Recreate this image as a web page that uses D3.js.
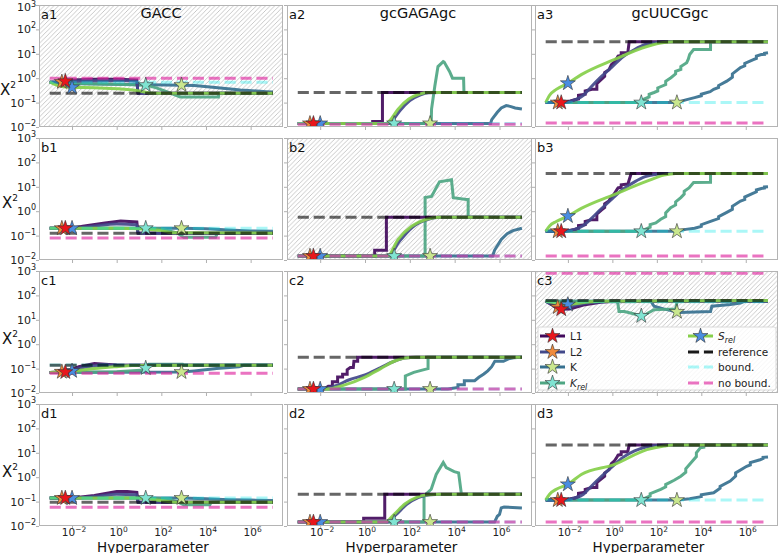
<!DOCTYPE html>
<html><head><meta charset="utf-8">
<script src="https://cdn.jsdelivr.net/npm/d3@7"></script>
<style>body{margin:0;background:#fff;} svg{display:block;font-family:"DejaVu Sans",sans-serif;}</style>
</head><body><svg id="chart" width="780" height="553"></svg>
<script>
// ---------------- data ----------------
const rowIds = ["a","b","c","d"];
const columnTitles = ["GACC","gcGAGAgc","gcUUCGgc"];
const methods = ["L1","L2","K","K_rel","S_rel"];
const xTickValues = [1e-2,1,1e2,1e4,1e6];
const yTickValues = [1e-2,1e-1,1,1e1,1e2,1e3];
const xTickExp = ["−2","0","2","4","6"];
const yTickExp = ["−2","−1","0","1","2","3"];
const hatchedPanels = ["a1","b2","c3"];
// star positions (hyperparameter value of selected optimum) per method
const starX = {L1:5e-3, L2:3.5e-3, K:800, K_rel:20, S_rel:1e-2};
// horizontal levels per row (columns GACC, gcGAGAgc, gcUUCGgc)
const referenceLevels = [[0.24,0.26,31],[0.126,0.56,35],[0.137,0.29,62],[0.095,0.2,21]];
const boundLevels     = [[0.68,0.014,0.1],[0.2,0.0145,0.15],[0.14,0.0145,55],[0.14,0.0145,0.115]];
const noBoundLevels   = [[1.0,0.013,0.0145],[0.079,0.0145,0.0145],[0.065,0.0145,800],[0.059,0.0145,0.0145]];

const panelA1 = {
  L1:[[1e-3,0.68],[4e-3,0.72],[0.01,0.85],[0.1,0.9],[1,0.9],[8,0.85],[9,0.24],[1e7,0.24]],
  L2:[[1e-3,0.68],[4e-3,0.7],[0.03,0.78],[1,0.8],[8,0.75],[9,0.24],[1e7,0.24]],
  K:[[1e-3,0.68],[0.01,0.6],[1,0.56],[800,0.52],[3000,0.5],[2e4,0.43],[3.5e5,0.33],[5e6,0.28],[1e7,0.27]],
  K_rel:[[1e-3,0.68],[0.01,0.6],[1,0.56],[20,0.52],[60,0.4],[350,0.22],[700,0.17],[3.6e4,0.17],[3.8e4,0.24],[1e7,0.24]],
  S_rel:[[1e-3,0.7],[2e-3,0.52],[0.01,0.42],[0.1,0.41],[1,0.37],[10,0.3],[30,0.25],[100,0.24],[1e7,0.24]]
};
const panelB1 = {
  L1:[[1e-3,0.2],[0.01,0.2],[0.03,0.24],[0.3,0.33],[1.5,0.4],[8,0.36],[9,0.126],[1e7,0.126]],
  L2:[[1e-3,0.2],[0.01,0.2],[0.1,0.25],[1,0.3],[8,0.28],[9,0.126],[1e7,0.126]],
  K:[[1e-3,0.2],[800,0.2],[1e4,0.19],[1e5,0.17],[1e6,0.155],[1e7,0.15]],
  K_rel:[[1e-3,0.2],[20,0.2],[90,0.19],[500,0.13],[1000,0.085],[2.7e4,0.085],[3.2e4,0.126],[1e7,0.126]],
  S_rel:[[1e-3,0.2],[1,0.2],[10,0.19],[100,0.16],[300,0.13],[1e7,0.126]]
};
const panelC1 = {
  L1:[[1e-3,0.07],[5e-3,0.072],[0.02,0.12],[0.1,0.16],[0.3,0.15],[1,0.14],[1e7,0.137]],
  L2:[[1e-3,0.07],[5e-3,0.075],[0.05,0.12],[0.3,0.14],[3,0.137],[1e7,0.137]],
  K:[[1e-3,0.07],[800,0.072],[3000,0.08],[3e4,0.1],[3e5,0.12],[5e5,0.137],[1e7,0.137]],
  K_rel:[[1e-3,0.07],[1,0.075],[12,0.085],[20,0.105],[28,0.15],[900,0.15],[1000,0.137],[1e7,0.137]],
  S_rel:[[1e-3,0.07],[0.01,0.08],[0.1,0.1],[1,0.12],[5,0.135],[1e7,0.137]]
};
const panelD1 = {
  L1:[[1e-3,0.14],[0.01,0.14],[0.1,0.18],[1,0.26],[3,0.26],[8,0.24],[9,0.095],[1e7,0.095]],
  L2:[[1e-3,0.14],[0.01,0.14],[0.1,0.16],[1,0.2],[8,0.19],[9,0.095],[1e7,0.095]],
  K:[[1e-3,0.14],[800,0.14],[1e4,0.13],[1e5,0.12],[1e6,0.115],[1e7,0.11]],
  K_rel:[[1e-3,0.14],[20,0.14],[200,0.13],[500,0.1],[1000,0.075],[1.5e4,0.075],[1.7e4,0.095],[1e7,0.095]],
  S_rel:[[1e-3,0.14],[10,0.14],[100,0.11],[500,0.095],[1e7,0.095]]
};
const panelA2 = {
  L1:[[1e-3,0.014],[2.2,0.014],[2.2,0.017],[6,0.017],[6,0.26],[1e7,0.26]],
  L2:[[1e-3,0.014],[10,0.014],[18,0.02],[35,0.045],[100,0.12],[300,0.21],[700,0.255],[2000,0.26],[1e7,0.26]],
  K:[[1e-3,0.014],[4e5,0.014],[4.5e5,0.02],[8e5,0.04],[1.2e6,0.06],[2e6,0.075],[3e6,0.07],[5e6,0.06],[1e7,0.055]],
  K_rel:[[1e-3,0.014],[900,0.014],[930,0.054],[1300,0.47],[1800,3.0],[3100,4.8],[3400,4.6],[5900,1.9],[8000,1.0],[2.5e4,1.0],[2.6e4,0.26],[1e7,0.26]],
  S_rel:[[1e-3,0.014],[9,0.014],[15,0.022],[30,0.054],[90,0.14],[250,0.22],[600,0.26],[1e7,0.26]]
};
const panelB2 = {
  L1:[[1e-3,0.0145],[2.7,0.0145],[2.7,0.025],[9,0.025],[9,0.56],[1e7,0.56]],
  L2:[[1e-3,0.0145],[11,0.0145],[35,0.06],[130,0.22],[600,0.45],[2300,0.56],[1e7,0.56]],
  K:[[1e-3,0.0145],[5e5,0.0145],[6e5,0.025],[1.2e6,0.07],[2.2e6,0.12],[4e6,0.16],[1e7,0.2]],
  K_rel:[[1e-3,0.0145],[480,0.0145],[480,3.6],[930,4.0],[2100,16],[7200,19.5],[8700,3.6],[3.3e4,3.0],[4e4,3.0],[4e4,0.56],[1e7,0.56]],
  S_rel:[[1e-3,0.0145],[10,0.0145],[30,0.07],[120,0.24],[560,0.47],[2000,0.56],[1e7,0.56]]
};
const panelC2 = {
  L1:[[1e-3,0.0145],[0.015,0.0145],[0.023,0.019],[0.035,0.019],[0.035,0.029],[0.06,0.029],[0.06,0.045],[0.1,0.045],[0.1,0.058],[0.16,0.058],[0.16,0.09],[0.22,0.11],[0.3,0.11],[0.32,0.2],[0.47,0.2],[0.47,0.29],[1e7,0.29]],
  L2:[[1e-3,0.0145],[0.01,0.0145],[0.05,0.02],[0.2,0.035],[1,0.055],[5,0.11],[20,0.2],[60,0.27],[200,0.29],[1e7,0.29]],
  K:[[1e-3,0.0145],[5e3,0.0145],[1.4e4,0.017],[1.4e4,0.022],[2.7e4,0.022],[2.7e4,0.032],[7.8e4,0.032],[1.2e5,0.044],[2e5,0.06],[3e5,0.081],[4.5e5,0.12],[6.2e5,0.2],[1.5e6,0.2],[2.5e6,0.25],[4.2e6,0.28],[1e7,0.29]],
  K_rel:[[1e-3,0.0145],[63,0.0145],[63,0.05],[150,0.07],[525,0.095],[650,0.1],[650,0.29],[1e7,0.29]],
  S_rel:[[1e-3,0.0145],[0.02,0.0145],[0.1,0.02],[1,0.045],[5,0.1],[20,0.2],[60,0.27],[200,0.29],[1e7,0.29]]
};
const panelD2 = {
  L1:[[1e-3,0.0145],[0.87,0.0145],[0.87,0.021],[7.6,0.021],[7.6,0.2],[1e7,0.2]],
  L2:[[1e-3,0.0145],[9,0.0145],[25,0.03],[70,0.075],[250,0.15],[800,0.19],[2500,0.2],[1e7,0.2]],
  K:[[1e-3,0.0145],[6e5,0.0145],[8e5,0.025],[1e6,0.03],[1.2e6,0.055],[1.6e6,0.06],[1e7,0.055]],
  K_rel:[[1e-3,0.0145],[400,0.0145],[430,0.02],[430,0.17],[900,0.32],[1500,1.3],[3100,4.0],[4200,2.5],[9500,1.7],[1.5e4,1.5],[2e4,0.2],[1e7,0.2]],
  S_rel:[[1e-3,0.0145],[8,0.0145],[20,0.03],[60,0.08],[200,0.15],[600,0.19],[2000,0.2],[1e7,0.2]]
};
const panelA3 = {
  L1:[[1e-3,0.1],[6e-3,0.1],[0.01,0.11],[0.02,0.13],[0.03,0.14],[0.03,0.2],[0.06,0.22],[0.06,0.3],[0.12,0.35],[0.2,0.35],[0.2,0.6],[0.32,0.9],[0.45,1.2],[0.45,1.7],[0.7,2.2],[0.9,3.6],[1.2,4.5],[1.5,6],[1.8,8],[2.5,8.5],[2.5,11],[4.5,11],[5,12],[5.7,31],[1e7,31]],
  L2:[[1e-3,0.1],[6e-3,0.1],[0.02,0.13],[0.05,0.2],[0.1,0.4],[0.3,1.1],[1,3],[3,7.5],[10,15],[30,24],[100,29],[300,31],[1e7,31]],
  K:[[1e-3,0.1],[800,0.1],[2000,0.13],[5000,0.16],[1e4,0.19],[1e4,0.22],[2.5e4,0.28],[3.6e4,0.35],[6e4,0.42],[6e4,0.5],[1.4e5,0.76],[2.5e5,1.1],[2.5e5,1.5],[5.8e5,2.7],[9e5,3.2],[9e5,4],[2.2e6,5.8],[3e6,6.5],[3e6,8],[5e6,9.3],[7e6,9.5],[7e6,10.5],[1e7,11]],
  K_rel:[[1e-3,0.1],[20,0.1],[27,0.14],[45,0.17],[45,0.22],[75,0.26],[110,0.3],[110,0.4],[250,0.55],[250,0.75],[430,1.05],[700,1.5],[700,1.9],[1200,2.3],[1200,3],[2200,4.3],[2600,6],[3000,9.3],[4500,15],[2.6e4,15],[2.6e4,31],[1e7,31]],
  S_rel:[[1e-3,0.1],[1.5e-3,0.2],[3e-3,0.35],[0.01,0.62],[0.04,1.4],[1.2,5.8],[36,20],[210,29],[600,31],[1e7,31]]
};
const panelB3 = {
  L1:[[1e-3,0.15],[6e-3,0.15],[0.01,0.16],[0.02,0.18],[0.03,0.2],[0.03,0.26],[0.06,0.28],[0.06,0.38],[0.12,0.45],[0.2,0.45],[0.2,0.75],[0.32,1.1],[0.45,1.4],[0.45,2],[0.7,2.6],[0.9,4],[1.2,5],[1.5,7],[1.8,9],[2.5,9.5],[2.5,12],[5,13],[7,35],[1e7,35]],
  L2:[[1e-3,0.15],[6e-3,0.15],[0.02,0.18],[0.05,0.26],[0.1,0.45],[0.3,1.2],[1,3.3],[3,8],[10,16],[30,26],[100,33],[300,35],[1e7,35]],
  K:[[1e-3,0.15],[800,0.15],[2000,0.18],[5000,0.2],[1e4,0.24],[1e4,0.28],[3e4,0.4],[6e4,0.5],[6e4,0.6],[1.4e5,0.9],[2.5e5,1.2],[2.5e5,1.6],[5.8e5,2.6],[9e5,3],[9e5,3.8],[2.2e6,5.5],[3e6,6.2],[3e6,7.4],[5e6,8.5],[7e6,9],[7e6,9.8],[1e7,10]],
  K_rel:[[1e-3,0.15],[20,0.15],[30,0.18],[50,0.22],[50,0.28],[90,0.33],[150,0.47],[250,0.6],[250,0.85],[420,1.4],[700,1.8],[700,2.4],[1200,3.6],[1700,5],[1700,6.5],[2800,9],[4500,15],[2.6e4,15.5],[2.6e4,35],[1e7,35]],
  S_rel:[[1e-3,0.15],[1.5e-3,0.25],[3e-3,0.38],[0.01,0.63],[0.04,1.3],[1.2,4.8],[36,17],[210,30],[700,35],[1e7,35]]
};
const panelC3 = {
  L1:[[1e-3,58],[2e-3,40],[3e-3,30],[5e-3,27],[0.012,28],[0.05,40],[0.3,52],[1,58],[1e7,60]],
  L2:[[1e-3,58],[2e-3,42],[3.5e-3,33],[8e-3,32],[0.03,42],[0.3,55],[1e7,60]],
  K:[[1e-3,58],[54,58],[75,36],[200,28],[1050,20],[2.6e4,22],[3e4,36],[2e5,42],[5.8e5,49],[8e5,56],[1e7,56]],
  K_rel:[[1e-3,58],[1.7,58],[2,22],[3.5,22],[8,18],[22,14],[75,26],[700,28],[830,58],[1e7,60]],
  S_rel:[[1e-3,58],[4e-3,48],[0.01,42],[0.03,48],[0.3,57],[1e7,62]]
};
const panelD3 = {
  L1:[[1e-3,0.115],[6e-3,0.115],[0.01,0.125],[0.02,0.14],[0.03,0.16],[0.03,0.22],[0.06,0.24],[0.06,0.32],[0.12,0.38],[0.2,0.38],[0.2,0.6],[0.32,0.85],[0.45,1.1],[0.45,1.5],[0.7,2],[0.9,3.6],[1.2,4.5],[1.5,6],[1.8,8],[2.5,8.5],[2.5,11],[4.5,11],[5,12],[5.7,21],[1e7,21]],
  L2:[[1e-3,0.115],[6e-3,0.115],[0.02,0.14],[0.05,0.2],[0.1,0.38],[0.3,1],[1,2.7],[3,6.5],[10,12],[30,17],[100,20],[300,21],[1e7,21]],
  K:[[1e-3,0.115],[800,0.115],[3000,0.13],[1e4,0.16],[1e4,0.19],[3.6e4,0.23],[7e4,0.35],[7e4,0.42],[2e5,0.69],[3.5e5,1.1],[3.5e5,1.5],[1.1e6,2.8],[1.6e6,3.2],[1.6e6,4],[4.4e6,5.2],[6e6,5.8],[6e6,6.5],[1e7,6.8]],
  K_rel:[[1e-3,0.115],[20,0.115],[30,0.14],[50,0.17],[50,0.21],[150,0.32],[250,0.4],[250,0.5],[600,0.75],[1200,1.1],[2000,1.6],[2000,2.2],[4500,5.2],[6000,7],[6000,10],[9000,16],[1.3e4,17],[1.3e4,21],[1e7,21]],
  S_rel:[[1e-3,0.115],[1.5e-3,0.2],[3e-3,0.32],[0.01,0.51],[0.04,1.3],[1.2,3.3],[36,13.5],[210,19],[500,21],[1e7,21]]
};
const panelData = {a1:panelA1,b1:panelB1,c1:panelC1,d1:panelD1,a2:panelA2,b2:panelB2,c2:panelC2,d2:panelD2,a3:panelA3,b3:panelB3,c3:panelC3,d3:panelD3};

// ---------------- style / layout ----------------
const lineColor = {L1:"#420a5c", L2:"#42488a", K:"#36708f", K_rel:"#4ea683", S_rel:"#86cf4a"};
const starColor = {L1:"#e8161c", L2:"#f08a3c", K:"#c9e78e", K_rel:"#80e4d2", S_rel:"#4a8de0"};
const refColor = "rgba(0,0,0,0.6)", boundColor = "rgba(0,230,230,0.33)", noBoundColor = "rgba(222,40,160,0.65)";
const drawOrder = ["K","K_rel","L1","L2","S_rel"];
const smooth = new Set(["L2","S_rel"]);
const colLefts = [39,287,535], colWidths = [244,245,243];
const rowTops = [5,138,271,404], panelH = 122;
const xDomain = [Math.pow(10,-3.48), Math.pow(10,7.45)];
const dash = "11.1,4.8";

const svg = d3.select("#chart");
const defs = svg.append("defs");
const hs = 4.6;
const pat = defs.append("pattern").attr("id","hatch").attr("patternUnits","userSpaceOnUse").attr("width",hs).attr("height",hs);
pat.append("path").attr("d",`M0,${hs} L${hs},0 M${-hs/2},${hs/2} L${hs/2},${-hs/2} M${hs/2},${hs*1.5} L${hs*1.5},${hs/2}`)
  .attr("stroke","#b3b3b3").attr("stroke-width",0.7);

const star = d3.symbol().type(d3.symbolStar).size(70);

function yAt(pts, xv){
  const lx = Math.log10(xv);
  for (let i=0;i<pts.length-1;i++){
    const a=Math.log10(pts[i][0]), b=Math.log10(pts[i+1][0]);
    if (lx>=a && lx<=b){
      const t = b===a?1:(lx-a)/(b-a);
      return Math.pow(10, Math.log10(pts[i][1])*(1-t)+Math.log10(pts[i+1][1])*t);
    }
  }
  return pts[0][1];
}

function supText(sel, base, exp, baseSize, expSize, dyUp){
  sel.append("tspan").attr("font-size",baseSize).text(base);
  sel.append("tspan").attr("font-size",expSize).attr("dy",-dyUp).text(exp);
}

rowIds.forEach((rid,r)=>{
  columnTitles.forEach((title,c)=>{
    const id = rid+(c+1);
    const x0 = colLefts[c], w = colWidths[c], y0 = rowTops[r], h = panelH;
    const x = d3.scaleLog().domain(xDomain).range([x0,x0+w]);
    const y = d3.scaleLog().domain([1e-2,1e3]).range([y0+h,y0]);
    const g = svg.append("g");
    g.append("rect").attr("x",x0).attr("y",y0).attr("width",w).attr("height",h).attr("fill","#fff");
    if (hatchedPanels.includes(id))
      g.append("rect").attr("x",x0).attr("y",y0).attr("width",w).attr("height",h).attr("fill","url(#hatch)");
    defs.append("clipPath").attr("id","clip-"+id).append("rect").attr("x",x0).attr("y",y0).attr("width",w).attr("height",h);
    const cg = g.append("g").attr("clip-path",`url(#clip-${id})`);
    const data = panelData[id];
    drawOrder.forEach(m=>{
      const ln = d3.line().x(d=>x(d[0])).y(d=>y(d[1])).curve(smooth.has(m)?d3.curveMonotoneX:d3.curveLinear);
      cg.append("path").datum(data[m]).attr("d",ln).attr("fill","none")
        .attr("stroke",lineColor[m]).attr("stroke-width",3).attr("stroke-opacity",0.92)
        .attr("stroke-linejoin","miter").attr("stroke-linecap","butt");
    });
    const hl = d3.line().x(d=>x(d[0])).y(d=>y(d[1]));
    [[boundLevels[r][c],boundColor],[noBoundLevels[r][c],noBoundColor],[referenceLevels[r][c],refColor]].forEach(([lv,col])=>{
      cg.append("path").datum([[1e-3,lv],[1e7,lv]]).attr("d",hl).attr("fill","none")
        .attr("stroke",col).attr("stroke-width",3).attr("stroke-dasharray",dash);
    });
    ["K","K_rel","S_rel","L2","L1"].forEach(m=>{
      const sx = starX[m], sy = yAt(data[m], sx);
      cg.append("path").attr("d",star).attr("transform",`translate(${x(sx)},${y(sy)})`)
        .attr("fill",starColor[m]).attr("stroke","#333").attr("stroke-width",0.6);
    });
    // axes ticks
    const ax = g.append("g").attr("transform",`translate(0,${y0+h})`)
      .call(d3.axisBottom(x).tickValues(xTickValues).tickSize(3).tickFormat(""));
    const ay = g.append("g").attr("transform",`translate(${x0},0)`)
      .call(d3.axisLeft(y).tickValues(yTickValues).tickSize(3).tickFormat(""));
    [ax,ay].forEach(a=>{a.select(".domain").remove(); a.selectAll("line").attr("stroke","#b0b0b0");});
    g.append("rect").attr("x",x0+0.5).attr("y",y0+0.5).attr("width",w-1).attr("height",h-1)
      .attr("fill","none").attr("stroke","#b4b4b4").attr("stroke-width",1);
    // panel label
    g.append("text").attr("x",x0+2).attr("y",y0+13.5).attr("font-size",13).attr("fill","#111").text(id);
    if (c===0){
      yTickValues.forEach((v,i)=>{
        const top = (r===0 && i===yTickValues.length-1);
        const t = g.append("text").attr("x",36).attr("y",y(v)+(top?6:4)).attr("text-anchor","end").attr("fill","#222");
        supText(t,"10",yTickExp[i],11,8,top?4:5);
      });
      const yl = g.append("text").attr("x",r===0?0:2).attr("y",[95,208,344,477][r]).attr("fill","#111");
      supText(yl,"X","2",15,9,7);
    }
    if (r===3){
      xTickValues.forEach((v,i)=>{
        const t = g.append("text").attr("x",x(v)+2).attr("y",536).attr("text-anchor","middle").attr("fill","#222");
        supText(t,"10",xTickExp[i],10.5,7.5,4.5);
      });
      g.append("text").attr("x",x0+w/2-8).attr("y",551.5).attr("text-anchor","middle").attr("font-size",13.5).attr("fill","#111").text("Hyperparameter");
    }
    if (r===0){
      g.append("text").attr("x",[161,418,670][c]).attr("y",18).attr("text-anchor","middle").attr("font-size",14.5).attr("fill","#111").text(title);
    }
  });
});

// ---------------- legend in c3 ----------------
const legendLeft = ["L1","L2","K","K_rel"];
const legendRight = ["S_rel","reference","bound.","no bound."];
const leg = svg.append("g");
leg.append("rect").attr("x",538).attr("y",327).attr("width",238).attr("height",63).attr("rx",2)
  .attr("fill","rgba(255,255,255,0.82)").attr("stroke","#d0d0d0").attr("stroke-width",0.8);
const rowsY = [336,352,367,383];
function legendLabel(t, name){
  if (name==="K_rel"||name==="S_rel"){
    t.append("tspan").attr("font-style","italic").text(name[0]);
    t.append("tspan").attr("font-style","italic").attr("font-size",8).attr("dy",3).text("rel");
  } else t.text(name);
}
function methodEntry(m, lx, ty){
  leg.append("line").attr("x1",lx).attr("x2",lx+25).attr("y1",ty).attr("y2",ty).attr("stroke",lineColor[m]).attr("stroke-width",3);
  leg.append("path").attr("d",star).attr("transform",`translate(${lx+12.5},${ty})`).attr("fill",starColor[m]).attr("stroke","#333").attr("stroke-width",0.6);
  const t = leg.append("text").attr("x",lx+30).attr("y",ty+4).attr("font-size",10.5).attr("fill","#222");
  legendLabel(t,m);
}
legendLeft.forEach((m,i)=>methodEntry(m,540,rowsY[i]));
methodEntry(legendRight[0],688,rowsY[0]);
[["reference","rgba(0,0,0,0.9)"],["bound.",boundColor],["no bound.",noBoundColor]].forEach(([name,col],i)=>{
  const ty = rowsY[i+1];
  leg.append("line").attr("x1",688).attr("x2",713).attr("y1",ty).attr("y2",ty).attr("stroke",col).attr("stroke-width",3).attr("stroke-dasharray",dash);
  leg.append("text").attr("x",718).attr("y",ty+4).attr("font-size",10.5).attr("fill","#222").text(name);
});
</script></body></html>
